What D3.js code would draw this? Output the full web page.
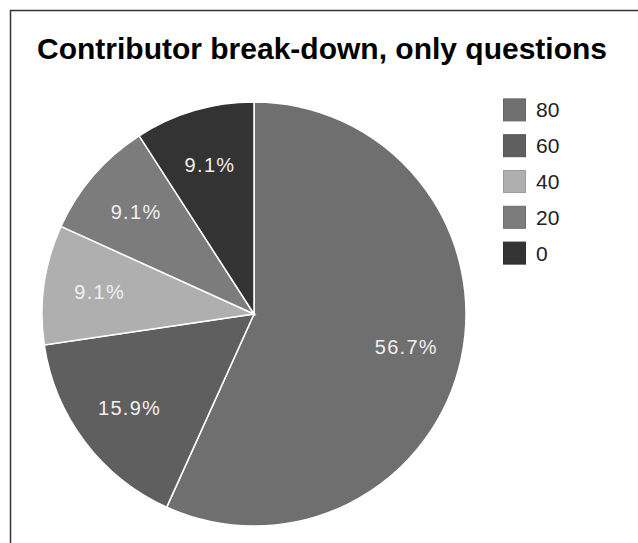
<!DOCTYPE html>
<html><head><meta charset="utf-8">
<script src="https://cdn.jsdelivr.net/npm/d3@7"></script>
<style>body{margin:0;background:#fff;}svg{display:block;}</style>
</head><body>
<svg id="c" width="638" height="543"></svg>
<script>
const categories = ["80", "60", "40", "20", "0"];
const values = [56.7, 15.9, 9.1, 9.1, 9.1];
const colors = ["#6f6f6f", "#5f5f5f", "#afafaf", "#7c7c7c", "#333333"];
const title = "Contributor break-down, only questions";

const svg = d3.select("#c");
// frame
svg.append("path").attr("d", "M10.5,543 V10.5 H638").attr("fill", "none").attr("stroke", "#333").attr("stroke-width", 1.5);

svg.append("text").attr("x", 322).attr("y", 59).attr("text-anchor", "middle")
  .attr("font-family", "Liberation Sans, Arial, sans-serif").attr("font-weight", "bold")
  .attr("font-size", 30).attr("fill", "#000").text(title);

const cx = 254, cy = 314, R = 212;
const data = categories.map((c, i) => ({cat: c, v: values[i], col: colors[i]}));
const pie = d3.pie().value(d => d.v).sort(null);
const arc = d3.arc().innerRadius(0).outerRadius(R);
const labelArc = d3.arc().innerRadius(R * 0.735).outerRadius(R * 0.735);

const g = svg.append("g").attr("transform", `translate(${cx},${cy})`);
const arcs = pie(data);
g.selectAll("path").data(arcs).join("path")
  .attr("d", arc).attr("fill", d => d.data.col)
  .attr("stroke", "#fff").attr("stroke-width", 1.5);
g.selectAll("text").data(arcs).join("text")
  .attr("transform", d => `translate(${labelArc.centroid(d)})`)
  .attr("text-anchor", "middle").attr("dy", "0.36em")
  .attr("font-family", "Liberation Sans, Arial, sans-serif").attr("font-size", 20)
  .attr("letter-spacing", 1.3)
  .attr("fill", "#f0f0f0")
  .text(d => d.data.v.toFixed(1) + "%");

const y = d3.scaleBand().domain(categories).range([92, 271]);
const leg = svg.append("g");
const items = leg.selectAll("g").data(data).join("g")
  .attr("transform", d => `translate(503,${y(d.cat) + y.bandwidth() / 2})`);
items.append("rect").attr("x", 0.5).attr("y", -11).attr("width", 22).attr("height", 22)
  .attr("fill", d => d.col).attr("stroke", d => d3.color(d.col).darker(0.3)).attr("stroke-width", 1);
items.append("text").attr("x", 33).attr("dy", "0.36em")
  .attr("font-family", "Liberation Sans, Arial, sans-serif").attr("font-size", 21)
  .attr("fill", "#222").text(d => d.cat);
</script>
</body></html>
